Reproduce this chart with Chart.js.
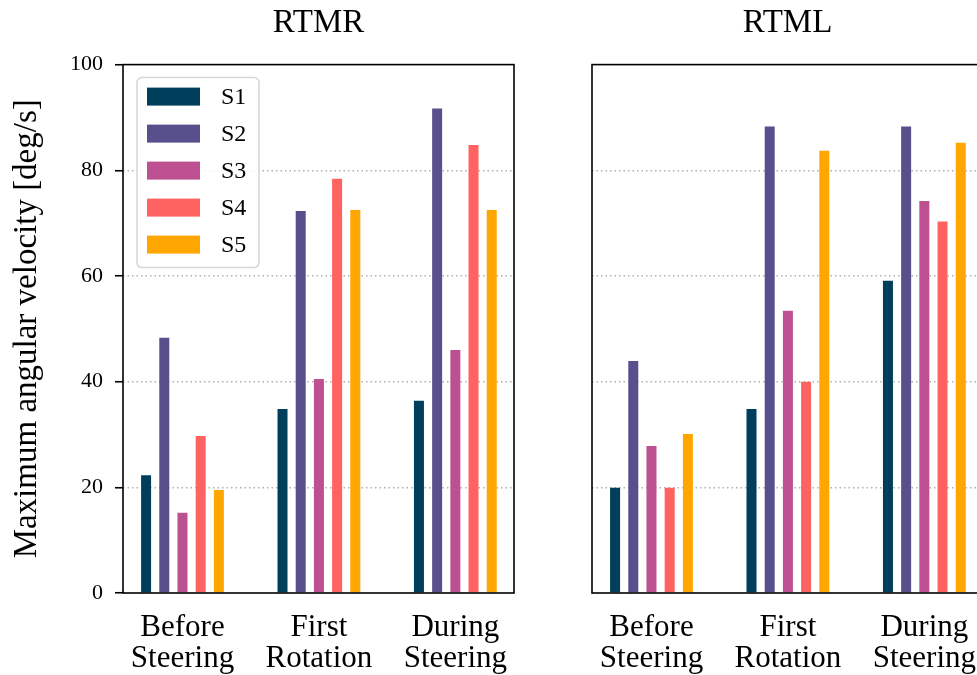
<!DOCTYPE html>
<html>
<head>
<meta charset="utf-8">
<script src="https://cdn.jsdelivr.net/npm/chart.js@4.4.1/dist/chart.umd.min.js"></script>
<style>
  html, body { margin: 0; padding: 0; background: #fff; overflow: hidden; }
  #wrap { position: relative; width: 977px; height: 675px; overflow: hidden; }
  canvas { position: absolute; top: 0; }
  #rtmr { left: 0; }
  #rtml { left: 540px; }
</style>
</head>
<body>
<div id="wrap">
  <canvas id="rtmr" width="530" height="675"></canvas>
  <canvas id="rtml" width="459" height="675"></canvas>
</div>
<script>
// ── Data ───────────────────────────────────────────
const categories = [['Before', 'Steering'], ['First', 'Rotation'], ['During', 'Steering']];
const subjects   = ['S1', 'S2', 'S3', 'S4', 'S5'];
const colors     = ['#003f5c', '#58508d', '#bc5090', '#ff6361', '#ffa600'];
const yTicks     = [0, 20, 40, 60, 80, 100];

// RTMR, one array per subject (Before, First Rotation, During)
const rtmrS1 = [22.3, 34.8, 36.4];
const rtmrS2 = [48.3, 72.3, 91.7];
const rtmrS3 = [15.2, 40.5, 46.0];
const rtmrS4 = [29.7, 78.4, 84.8];
const rtmrS5 = [19.5, 72.5, 72.5];

// RTML
const rtmlS1 = [19.9, 34.8, 59.1];
const rtmlS2 = [43.9, 88.3, 88.3];
const rtmlS3 = [27.8, 53.4, 74.2];
const rtmlS4 = [19.9, 40.0, 70.3];
const rtmlS5 = [30.1, 83.7, 85.2];

const SERIF = "'Liberation Serif', 'Times New Roman', serif";
Chart.defaults.font.family = SERIF;
Chart.defaults.color = '#000';

function makeDatasets(series) {
  return series.map((vals, i) => ({
    label: subjects[i],
    data: vals.map((v, k) => ({ x: k, y: v })),
    backgroundColor: colors[i],
    borderWidth: 0,
    categoryPercentage: 0.667,
    barPercentage: 0.55,
  }));
}

// ── Plugins: axes frame + boxed legend ─────────────
const framePlugin = {
  id: 'frame',
  afterDatasetsDraw(chart) {
    const a = chart.chartArea, ctx = chart.ctx;
    ctx.save();
    ctx.strokeStyle = '#000';
    ctx.lineWidth = 1.6;
    ctx.strokeRect(a.left, a.top, a.right - a.left, a.bottom - a.top);
    ctx.restore();
  }
};

const boxLegend = {
  id: 'boxLegend',
  afterDraw(chart, args, opts) {
    if (!opts.show) return;
    const a = chart.chartArea, ctx = chart.ctx;
    const x0 = a.left + 14, y0 = a.top + 13, w = 122, h = 190, r = 5;
    ctx.save();
    ctx.beginPath();
    ctx.roundRect(x0, y0, w, h, r);
    ctx.fillStyle = 'rgba(255,255,255,0.85)';
    ctx.fill();
    ctx.strokeStyle = '#d6d6d6';
    ctx.lineWidth = 1.5;
    ctx.stroke();
    ctx.font = '24px ' + SERIF;
    ctx.textBaseline = 'middle';
    chart.data.datasets.forEach((ds, i) => {
      const sy = y0 + 10 + i * 37;
      ctx.fillStyle = ds.backgroundColor;
      ctx.fillRect(x0 + 10, sy, 53, 18);
      ctx.fillStyle = '#000';
      ctx.fillText(ds.label, x0 + 84, sy + 10);
    });
    ctx.restore();
  }
};

function makeChart(id, title, series, showYLabels) {
  return new Chart(document.getElementById(id), {
    type: 'bar',
    data: { datasets: makeDatasets(series) },
    plugins: [framePlugin, boxLegend],
    options: {
      responsive: false,
      animation: false,
      devicePixelRatio: 1,
      layout: { padding: { left: 0, right: 16, top: 0, bottom: 0 } },
      plugins: {
        legend: { display: false },
        tooltip: { enabled: false },
        title: {
          display: true,
          text: title,
          fullSize: false,
          font: { size: 33, weight: 'normal' },
          padding: { top: 4, bottom: 21 },
        },
        boxLegend: { show: showYLabels },
      },
      scales: {
        x: {
          type: 'linear',
          offset: false,
          min: -0.436,
          max: 2.43,
          afterBuildTicks: s => { s.ticks = categories.map((c, i) => ({ value: i })); },
          afterFit: s => { s.height = 82; },
          grid: { display: false, drawTicks: false, offset: false },
          border: { display: false },
          ticks: {
            callback: v => categories[v],
            font: { size: 31, lineHeight: 1.0 },
            padding: 19,
            maxRotation: 0,
          },
        },
        y: {
          min: 0,
          max: 100,
          afterBuildTicks: s => { s.ticks = yTicks.map(v => ({ value: v })); },
          afterFit: s => { s.width = showYLabels ? 123 : 52; },
          grid: {
            color: c => (c.tick && (c.tick.value === 0 || c.tick.value === 100)) ? 'rgba(0,0,0,0)' : '#b0b0b0',
            lineWidth: 1.5,
            drawTicks: showYLabels,
            tickLength: 8,
            tickColor: '#000',
            tickWidth: 1.6,
            tickBorderDash: [],
          },
          border: { display: false, dash: [1.5, 3] },
          ticks: {
            display: showYLabels,
            font: { size: 22 },
            padding: 12,
          },
          title: {
            display: showYLabels,
            text: 'Maximum angular velocity [deg/s]',
            font: { size: 33 },
            padding: { top: 8, bottom: 0 },
          },
        },
      },
    },
  });
}

makeChart('rtmr', 'RTMR', [rtmrS1, rtmrS2, rtmrS3, rtmrS4, rtmrS5], true);
makeChart('rtml', 'RTML', [rtmlS1, rtmlS2, rtmlS3, rtmlS4, rtmlS5], false);
</script>
</body>
</html>
